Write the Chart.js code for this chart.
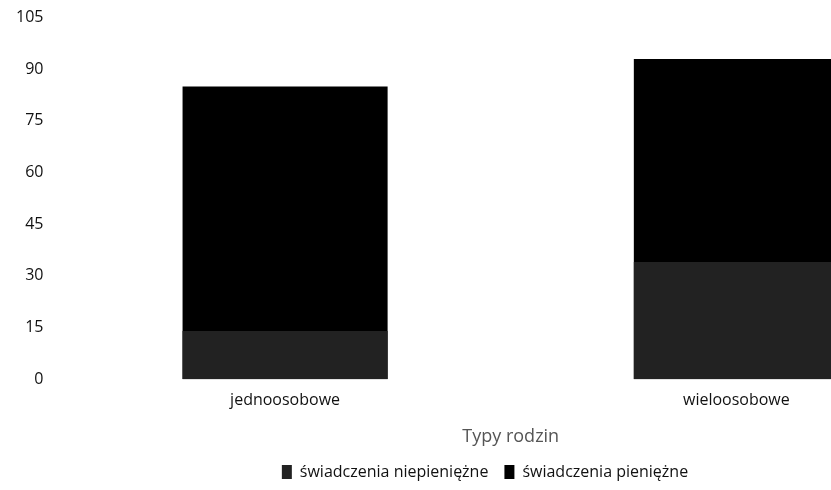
<!DOCTYPE html>
<html>
<head>
<meta charset="utf-8">
<script src="https://cdn.jsdelivr.net/npm/chart.js@4"></script>
<style>
  html, body { margin: 0; padding: 0; background: #fff; overflow: hidden; }
  #wrap { width: 984px; height: 490px; }
</style>
</head>
<body>
<div id="wrap"><canvas id="c" width="984" height="490"></canvas></div>
<script>
const categories = ["jednoosobowe", "wieloosobowe"];
const seriesNames = ["świadczenia niepieniężne", "świadczenia pieniężne"];
const niepieniezne = [14, 34];
const pieniezne = [85, 93];
const yTicks = [0, 15, 30, 45, 60, 75, 90, 105];
const xTitle = "Typy rodzin";

const font = "'Open Sans', 'Noto Sans', sans-serif";

new Chart(document.getElementById('c'), {
  type: 'bar',
  data: {
    labels: categories,
    datasets: [
      { label: seriesNames[0], data: niepieniezne, backgroundColor: '#222222', grouped: false,
        categoryPercentage: 0.8, barPercentage: 0.568 },
      { label: seriesNames[1], data: pieniezne, backgroundColor: '#000000', grouped: false,
        categoryPercentage: 0.8, barPercentage: 0.568 }
    ]
  },
  options: {
    responsive: false,
    animation: false,
    layout: { padding: { top: 12, right: 22, left: 8, bottom: 0 } },
    plugins: {
      tooltip: { enabled: false },
      legend: {
        position: 'bottom',
        labels: { boxWidth: 10, boxHeight: 14, padding: 16, color: '#111', font: { family: font, size: 16 } }
      }
    },
    scales: {
      x: {
        grid: { display: false },
        border: { display: false },
        ticks: { color: '#111', font: { family: font, size: 16 }, padding: 4 },
        title: { display: true, text: xTitle, color: '#555', font: { family: font, size: 18 }, padding: { top: 12, bottom: 0 } }
      },
      y: {
        min: 0, max: 105,
        afterBuildTicks: (axis) => { axis.ticks = yTicks.map(v => ({ value: v })); },
        grid: { display: false },
        border: { display: false },
        ticks: { color: '#111', font: { family: font, size: 16 }, padding: 8 }
      }
    }
  }
});
</script>
</body>
</html>
